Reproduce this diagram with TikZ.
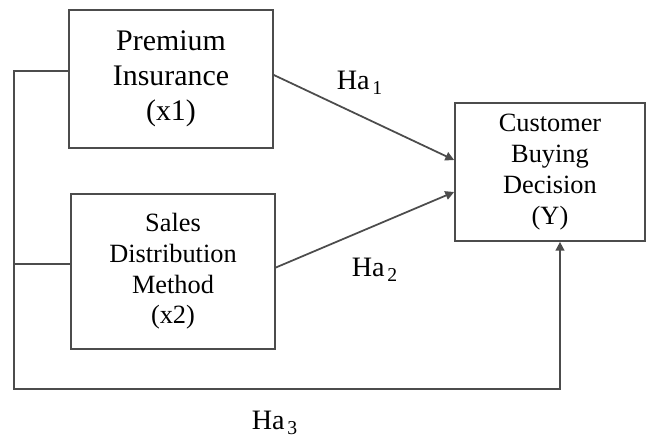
\documentclass[tikz,border=0pt]{standalone}
\usepackage{fontspec}
\setmainfont{Liberation Serif}
\usetikzlibrary{arrows.meta}

\begin{document}
\begin{tikzpicture}[x=0.02cm, y=-0.02cm,
    box/.style={draw=gray!60!black, line width=1pt, align=center, inner sep=0pt},
    link/.style={draw=gray!60!black, line width=1pt},
    tip/.style={-{Triangle[length=5pt,width=5pt]}}]
    \useasboundingbox (0,0) rectangle (647,441);
    \def\ha#1{Ha\hspace{0.1em}\textsubscript{#1}}
    \node[box, minimum width=4.08cm, minimum height=2.76cm, font=\fontsize{17}{20}\selectfont] (prem) at (171,79) {Premium\\Insurance\\(x1)};
    \node[box, minimum width=4.08cm, minimum height=3.1cm, font=\fontsize{15}{17.5}\selectfont] (sales) at (173,271.5) {Sales\\Distribution\\Method\\(x2)};
    \node[box, minimum width=3.8cm, minimum height=2.76cm, font=\fontsize{15}{17.5}\selectfont] (cbd) at (550,172) {Customer\\Buying\\Decision\\(Y)};
    \coordinate (corner) at (14,389);
    \draw[link, tip] ([yshift=0.08cm]prem.east) -- ([yshift=0.24cm]cbd.west);
    \draw[link, tip] ([yshift=0.08cm]sales.east) -- ([yshift=-0.4cm]cbd.west);
    \draw[link, tip] ([yshift=0.16cm]prem.west) -| (corner) -| ([xshift=0.2cm]cbd.south);
    \draw[link] ([yshift=0.15cm]sales.west) -- ([yshift=0.15cm]sales.west -| corner);
    \node[font=\fontsize{16}{18}\selectfont] (h1) at (360,83) {\ha{1}};
    \node[font=\fontsize{16}{18}\selectfont] (h2) at (375,270) {\ha{2}};
    \node[font=\fontsize{16}{18}\selectfont] (h3) at (275,423) {\ha{3}};
\end{tikzpicture}
\end{document}
